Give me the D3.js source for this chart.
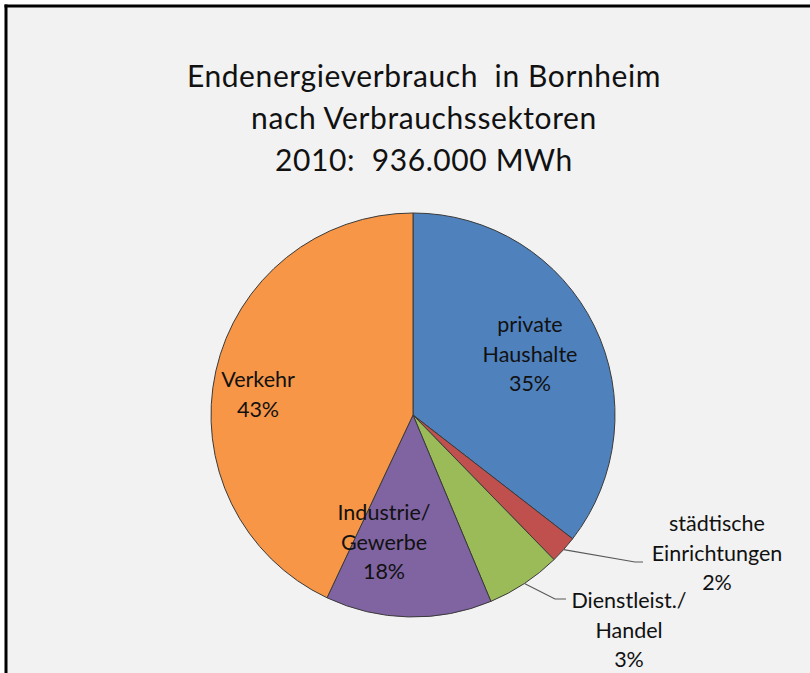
<!DOCTYPE html>
<html>
<head>
  <meta charset="utf-8">
  <script src="https://d3js.org/d3.v7.min.js"></script>
  <style>
    body { margin: 0; background: #fff; }
    svg text { font-family: 'Lato', 'Noto Sans', sans-serif; fill: #111; white-space: pre; }
  </style>
</head>
<body>
<script>
// sectors, clockwise from 12 o'clock
var sectors = ["private Haushalte", "städtische Einrichtungen", "Dienstleist./Handel", "Industrie/Gewerbe", "Verkehr"];
// slice sizes as drawn in the picture (share of 100)
var shares = [35.5, 2.2, 6.0, 13.3, 43.0];
// label lines as printed
var labelLines = [
  ["private", "Haushalte", "35%"],
  ["städtische", "Einrichtungen", "2%"],
  ["Dienstleist./", "Handel", "3%"],
  ["Industrie/", "Gewerbe", "18%"],
  ["Verkehr", "43%"]
];
var colors = ["#4f81bd", "#c0504d", "#9bbb59", "#8064a2", "#f79646"];
var titleLines = ["Endenergieverbrauch  in Bornheim", "nach Verbrauchssektoren", "2010:  936.000 MWh"];

var W = 810, H = 673;
var cx = 413, cy = 415, R = 202;

var svg = d3.select("body").append("svg")
  .attr("width", W).attr("height", H);

// chart area with frame (only top and left edges visible)
svg.append("rect").attr("x", 6).attr("y", 6).attr("width", W).attr("height", H)
  .attr("fill", "#f2f2f2");
svg.append("line").attr("x1", 4.5).attr("x2", W).attr("y1", 6).attr("y2", 6)
  .attr("stroke", "#000").attr("stroke-width", 3);
svg.append("line").attr("x1", 6).attr("x2", 6).attr("y1", 4.5).attr("y2", H)
  .attr("stroke", "#000").attr("stroke-width", 3);

// title
svg.append("g").selectAll("text")
  .data(titleLines).enter().append("text")
  .attr("x", 424).attr("y", function (d, i) { return 87 + i * 42; })
  .attr("text-anchor", "middle")
  .style("font-size", "30px")
  .style("letter-spacing", "0.6px")
  .text(function (d) { return d; });

var pie = d3.pie().sort(null).value(function (d) { return d; });
var arcs = pie(shares);
var arc = d3.arc().innerRadius(0).outerRadius(R);

var g = svg.append("g").attr("transform", "translate(" + cx + "," + cy + ")");
g.selectAll("path").data(arcs).enter().append("path")
  .attr("d", arc)
  .attr("fill", function (d, i) { return colors[i]; })
  .attr("stroke", "#3a3a3a").attr("stroke-width", 1);

// label positions relative to center
var labelPos = [
  { x: 117, y: -83 },
  { x: 304, y: 116 },
  { x: 216, y: 193 },
  { x: -29, y: 105 },
  { x: -155, y: -28 }
];
var lineH = 29.5;

var lab = svg.append("g").attr("transform", "translate(" + cx + "," + cy + ")");
labelLines.forEach(function (lines, i) {
  var p = labelPos[i];
  lab.append("g").selectAll("text").data(lines).enter().append("text")
    .attr("x", p.x)
    .attr("y", function (d, j) { return p.y + j * lineH; })
    .attr("text-anchor", "middle")
    .style("font-size", "21.5px")
    .text(function (d) { return d; });
});

// leader lines for the two small slices
function leader(i, ex, ey, hx) {
  var a = (arcs[i].startAngle + arcs[i].endAngle) / 2;
  var sx = Math.sin(a) * R, sy = -Math.cos(a) * R;
  lab.append("polyline")
    .attr("points", [[sx, sy], [ex, ey], [hx, ey]].map(function (p) { return p.join(","); }).join(" "))
    .attr("fill", "none").attr("stroke", "#595959").attr("stroke-width", 1.2);
}
leader(1, 222, 147, 230);
leader(2, 142, 184, 153);
</script>
</body>
</html>
